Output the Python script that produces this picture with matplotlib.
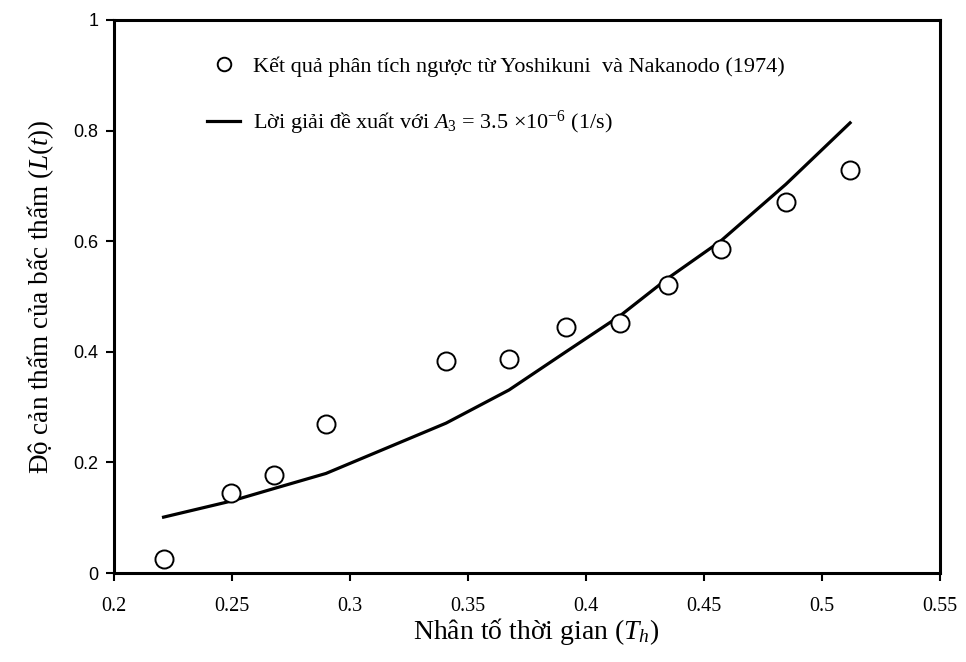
import matplotlib.pyplot as plt

plt.rcParams['mathtext.fontset'] = 'custom'
plt.rcParams['mathtext.rm'] = 'Liberation Serif'
plt.rcParams['mathtext.it'] = 'Liberation Serif:italic'

# back-analysis points (Yoshikuni & Nakanodo, 1974)
th_obs = [0.221, 0.2496, 0.268, 0.2898, 0.3407, 0.3674, 0.3915, 0.4144, 0.4347, 0.457, 0.4847, 0.5119]
lt_obs = [0.025, 0.145, 0.177, 0.269, 0.383, 0.387, 0.445, 0.452, 0.521, 0.586, 0.671, 0.729]

# proposed solution, A3 = 3.5e-6 1/s
lt_sol = [0.101, 0.130, 0.153, 0.180, 0.271, 0.331, 0.400, 0.465, 0.533, 0.600, 0.703, 0.814]

xticks = [0.2, 0.25, 0.3, 0.35, 0.4, 0.45, 0.5, 0.55]
yticks = [0, 0.2, 0.4, 0.6, 0.8, 1]

fig = plt.figure(figsize=(9.66, 6.62), dpi=100)
ax = fig.add_axes([114 / 966, 1 - 573 / 662, 826 / 966, 553 / 662])

ax.plot(th_obs, lt_obs, 'o', ms=13, mfc='white', mec='black', mew=1.4,
        label='Kết quả phân tích ngược từ Yoshikuni  và Nakanodo (1974)', zorder=3)
ax.plot(th_obs, lt_sol, '-', color='black', lw=2.3,
        label=r'Lời giải đề xuất với $A_{\mathit{3}}$ = 3.5 ×10$^{-6}$ (1/s)', zorder=2)

ax.set_xlim(0.2, 0.55)
ax.set_ylim(0, 1)
ax.set_xticks(xticks)
ax.set_xticklabels([f'{v:g}' for v in xticks], family='Liberation Serif', fontsize=14.5)
ax.set_yticks(yticks)
ax.set_yticklabels([f'{v:g}' for v in yticks], family='Liberation Sans', fontsize=13)
ax.tick_params(direction='out', length=6, width=1.5, pad=5)
ax.tick_params(axis='x', pad=11)
for s in ax.spines.values():
    s.set_linewidth(2.2)

ax.set_xlabel('Nhân tố thời gian ($T_h$)', family='Liberation Serif', fontsize=20, labelpad=0)
ax.xaxis.label.set_x(0.511)
ax.set_ylabel('Độ cản thấm của bấc thấm ($L(t)$)', family='Liberation Serif', fontsize=19.5, labelpad=13)

leg = ax.legend(loc='upper left', bbox_to_anchor=(0.1126, 0.934), frameon=False,
                prop={'family': 'Liberation Serif', 'size': 16}, handlelength=1.5,
                handletextpad=0.55, labelspacing=1.45, numpoints=1, markerscale=0.75,
                borderpad=0, borderaxespad=0)

fig.savefig('out.png', dpi=100)
